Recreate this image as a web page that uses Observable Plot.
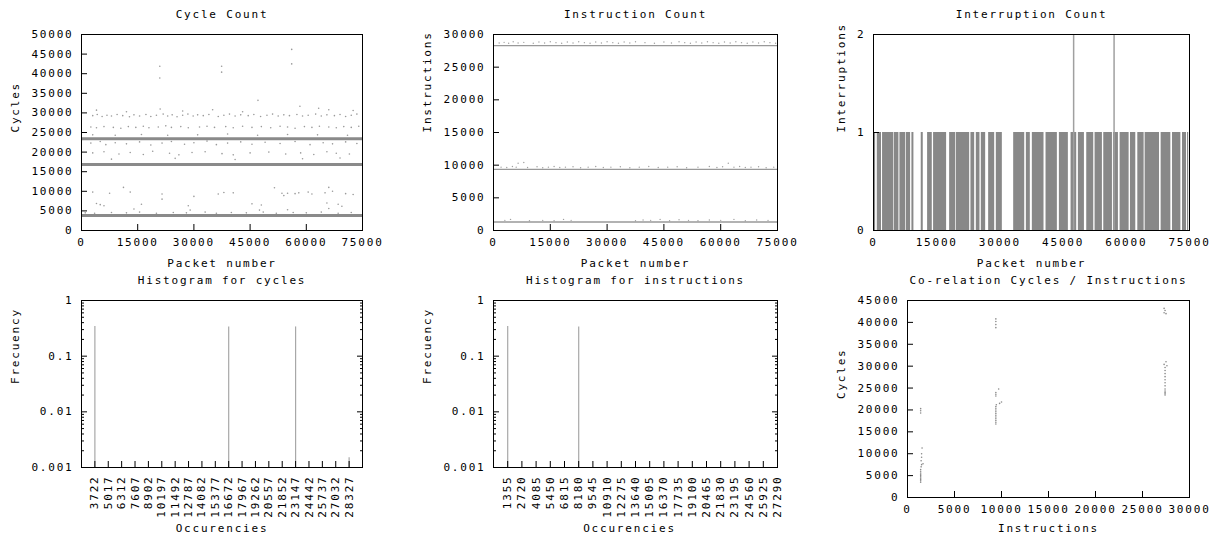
<!DOCTYPE html>
<html><head><meta charset="utf-8">
<script src="https://cdn.jsdelivr.net/npm/d3@7"></script>
<script src="https://cdn.jsdelivr.net/npm/@observablehq/plot@0.6"></script>
<style>
body{margin:0;background:#fff;}
#root{position:relative;width:1217px;height:537px;overflow:hidden;background:#fff;}
#root svg{position:absolute;}
</style></head><body><div id="root"></div><script>
// ---------------- DATA ----------------
const packetRange = [0, 75000];
const packetTicks = [0, 15000, 30000, 45000, 60000, 75000];

// Cycle count panel
const cycleTicks = [0, 5000, 10000, 15000, 20000, 25000, 30000, 35000, 40000, 45000, 50000];
const cycleBands = [23400, 16850, 3850];
const cycleScatter = [
  [20900,41900],[20900,38900],[37400,41900],[37400,40400],[56100,46200],[56100,42500],[47100,33200],[58300,31700],[63300,31200],
  [21000,31000],[27000,30500],[35000,30800],[43000,30300],[66000,30800],[72500,30600],[12000,30300],[4000,30700],
  [3000,29300],[4200,29600],[5500,29100],[6800,29400],[8000,29200],[9500,29600],[11000,29300],[12800,29000],[14000,29500],
  [15500,29200],[17200,29600],[18500,29100],[20000,29400],[21800,29700],[23000,29200],[24200,29500],[25500,29000],[27000,29400],
  [28400,29700],[29800,29200],[31000,29500],[32500,29300],[34000,29600],[36500,29100],[38000,29400],[39500,29700],[41000,29200],
  [42500,29500],[44500,29300],[46000,29600],[47800,29100],[49500,29400],[51000,29700],[52500,29200],[54000,29500],[55500,29300],
  [57500,29600],[59000,29200],[60500,29400],[62500,29700],[64000,29200],[65500,29500],[67500,29300],[69000,29600],[70500,29100],
  [72000,29400],[73500,29700],
  [2500,26400],[4000,26200],[6000,26500],[8500,26300],[10500,26100],[12500,26500],[14500,26300],[16500,26600],[18000,26200],
  [20500,26400],[22500,26700],[24000,26300],[26500,26500],[28500,26200],[31500,26400],[33500,26600],[35500,26300],[38500,26500],
  [40500,26200],[43000,26600],[45500,26300],[48000,26500],[50500,26200],[53000,26600],[55000,26400],[57000,26100],[59500,26500],
  [61500,26300],[63500,26600],[66000,26400],[68000,26200],[70000,26500],[72000,26300],[74000,26600],
  [3000,24400],[9000,24300],[16000,24500],[23000,24300],[31000,24400],[39000,24600],[47000,24300],[55000,24500],[63000,24400],[71000,24300],
  [2500,22300],[5000,22700],[6500,21900],[9000,22400],[12000,22100],[15500,22600],[18500,21800],[21500,22300],[24000,22700],
  [27500,22000],[30000,22400],[33500,22800],[36000,21900],[39000,22300],[42500,22600],[45500,22000],[49000,22500],[53000,22200],
  [57000,22700],[61000,21900],[64500,22400],[67000,22100],[70500,22600],[73500,22200],
  [3000,19800],[6000,20100],[10000,19500],[13000,19900],[16500,19400],[19000,20200],[23500,19700],[26000,19300],[29500,19900],
  [33000,20100],[37500,19600],[40500,19300],[45000,19800],[50000,20000],[54500,19500],[58500,19800],[62000,19400],[65500,20100],
  [68000,19700],[71500,19500],[8000,18200],[25000,18400],[41000,18100],[59000,18300],[69000,18500],
  [3000,9800],[7500,9500],[11200,11000],[13000,9800],[21500,9300],[36500,9300],[38000,9700],[40500,9600],[51500,10900],[53500,9500],
  [55000,9500],[57000,9400],[58000,9600],[60500,9800],[61500,9300],[65000,9600],[66000,11000],[67000,10000],[70500,9400],[72500,9200],
  [21500,8000],[30000,8700],[54000,8900],
  [4000,6900],[5000,6600],[6000,6300],[16000,6700],[28500,6300],[45500,6800],[48000,6500],[65500,7000],[68500,6700],[69500,6200],
  [14000,5500],[29000,5200],[47500,5200],[55000,5300],[66000,5600],
  [1000,4500],[3500,4400],[8000,4600],[12000,4500],[15500,4700],[20000,4400],[24500,4600],[28000,4500],[33000,4700],[36000,4400],
  [40000,4600],[44000,4500],[48500,4700],[52000,4400],[56500,4600],[60000,4500],[64000,4700],[68500,4400],[72000,4600]
];

// Instruction count panel
const instrTicks = [0, 5000, 10000, 15000, 20000, 25000, 30000];
const instrLevels = [28300, 9350, 1300];
const instrScatter = [
  [1500,28700],[2800,28800],[4000,28650],[5200,28900],[6500,28700],[8000,28800],[10500,28650],[12000,28850],[13500,28700],
  [15000,28900],[16500,28750],[18000,28650],[19500,28850],[21000,28700],[22500,28900],[24000,28750],[25500,28650],[27000,28850],
  [28500,28700],[30000,28900],[31500,28750],[33000,28650],[34500,28850],[36000,28700],[37500,28900],[40000,28750],[42500,28650],
  [45000,28850],[47000,28700],[49000,28900],[50500,28750],[52000,28650],[53500,28850],[55000,28700],[56500,28900],[58000,28750],
  [59500,28650],[61000,28850],[62500,28700],[64000,28900],[65500,28750],[67000,28650],[68500,28850],[70000,28700],[71500,28900],
  [73000,28750],[74500,28650],
  [2000,9700],[3500,9650],[5000,9800],[6500,10300],[8000,10400],[6000,9700],[9000,9650],[11500,9750],[13000,9600],[14500,9700],
  [16000,9800],[17500,9650],[19000,9700],[21000,9750],[23000,9600],[25000,9700],[27000,9800],[29000,9650],[31000,9700],
  [33500,9750],[36000,9600],[38500,9700],[41000,9800],[43500,9650],[46000,9700],[48500,9750],[51000,9600],[54000,9700],
  [57000,9800],[59000,9650],[60500,9750],[62000,10300],[63500,9700],[65000,9800],[66500,9650],[68000,9700],[70000,9750],
  [72000,9600],[74000,9700],
  [3000,1550],[4500,1700],[9500,1500],[13000,1550],[16000,1500],[18500,1700],[20500,1550],[37500,1500],[39500,1600],[41500,1550],
  [44000,1700],[46500,1500],[49000,1650],[51500,1550],[54000,1500],[57000,1600],[60000,1550],[63500,1700],[66500,1500],[69500,1600],[72500,1550]
];

// Interruption count panel
const interruptTicks = [0, 1, 2];
const interruptActive = [150, 74800];
const interruptGaps = [
  [500,900],[1900,2150],[4750,4900],[6030,6270],[7610,7770],[8800,9120],[9590,11330],[11810,12840],[13950,14260],
  [17350,18070],[19490,19650],[22820,23130],[24010,24400],[25270,25590],[26620,27330],[28760,29150],[30580,33270],
  [35890,36280],[37220,37700],[40470,40950],[43640,44120],[46250,46890],[48230,48630],[50060,50610],[52270,52590],
  [54330,54650],[56710,56950],[58130,58530],[60670,60990],[62250,62730],[64230,64470],[67880,68270],[70570,70970],
  [72950,73340],[74290,74530]
];
const interruptLevel = 1;
const interruptSpikes = [[47500, 2], [57100, 2]];

// Histograms
const freqTicks = [0.001, 0.01, 0.1, 1];
const freqLabels = ["0.001", "0.01", "0.1", "1"];
const cycleBins = [3722,5017,6312,7607,8902,10197,11492,12787,14082,15377,16672,17967,19262,20557,21852,23147,24442,25737,27032,28327];
const cycleFreq = [0.34,0,0,0,0,0,0,0,0,0,0.335,0,0,0,0,0.335,0,0,0,0.0015];
const cycleBinDomain = [2427, 29622];
const instrBins = [1355,2720,4085,5450,6815,8180,9545,10910,12275,13640,15005,16370,17735,19100,20465,21830,23195,24560,25925,27290];
const instrFreq = [0.34,0,0,0,0,0.335,0,0,0,0,0,0,0,0,0,0,0,0,0,0];
const instrBinDomain = [-10, 27290];

// Correlation panel
const corrXTicks = [0, 5000, 10000, 15000, 20000, 25000, 30000];
const corrYTicks = [0, 5000, 10000, 15000, 20000, 25000, 30000, 35000, 40000, 45000];
const corrPoints = [
  [1400,3500],[1400,3800],[1400,4100],[1400,4400],[1400,4700],[1400,5000],[1400,5300],[1400,5600],[1400,6000],[1400,6400],
  [1450,7000],[1500,7500],[1650,7700],[1450,8400],[1500,9200],[1500,10000],[1550,11300],[1400,19300],[1400,19800],[1400,20300],
  [9400,16800],[9400,17200],[9400,17600],[9400,18000],[9400,18400],[9400,18800],[9400,19200],[9400,19600],[9400,20000],[9400,20400],
  [9400,20800],[9450,21200],[9400,23200],[9400,23600],[9400,24000],[9700,24800],[9800,21500],[10000,21800],
  [9400,38800],[9400,39500],[9400,40200],[9400,40800],
  [27400,23400],[27400,23700],[27400,24000],[27400,24300],[27400,24800],[27400,25500],[27400,26200],[27400,26900],[27400,27600],
  [27400,28300],[27400,29000],[27400,29700],[27300,30400],[27500,31000],[27600,30100],[27300,42200],[27400,42700],[27300,43200],[27500,42000]
];

// ---------------- DRAWING ----------------
const fmt = d3.format("d");
const baseStyle = "font-family:'DejaVu Sans Mono',monospace;font-size:11px;letter-spacing:1.8px;background:transparent;overflow:visible;color:#000;";
const root = document.getElementById("root");
function place(svg, left, top) { svg.style.left = left + "px"; svg.style.top = top + "px"; root.appendChild(svg); }
const txt = (s, o) => Plot.text([s], {text: d => d, fill: "#000", ...o});

function linAxes(xt, yt, opts = {}) {
  const m = [
    Plot.axisX({ticks: xt, tickSize: 0, tickPadding: 8, tickFormat: fmt, label: null}),
    Plot.axisY({ticks: yt, tickSize: 0, tickPadding: 8, tickFormat: opts.yFmt || fmt, label: null}),
    Plot.axisY({ticks: yt, tickSize: -6, tickFormat: () => "", label: null})
  ];
  if (opts.bottomTicks !== false) m.push(Plot.axisX({ticks: xt, tickSize: -6, tickFormat: () => "", label: null}));
  return m;
}

// Panel 1: Cycle Count
place(Plot.plot({
  width: 400, height: 270, marginTop: 34, marginLeft: 81, marginRight: 38, marginBottom: 40,
  style: baseStyle,
  x: {domain: packetRange}, y: {domain: [0, 50000]},
  marks: [
    Plot.dot(cycleScatter, {x: d => d[0], y: d => d[1], r: 0.8, fill: "#9a9a9a", stroke: null}),
    Plot.ruleY(cycleBands, {y: d => d, x1: packetRange[0], x2: packetRange[1], stroke: "#8a8a8a", strokeWidth: 3}),
    Plot.frame({stroke: "#000"}),
    ...linAxes(packetTicks, cycleTicks),
    txt("Cycle Count", {frameAnchor: "top", dy: -24}),
    txt("Packet number", {frameAnchor: "bottom", dy: 36}),
    txt("Cycles", {frameAnchor: "left", dx: -66, rotate: -90})
  ]
}), 0, 0);

// Panel 2: Instruction Count
place(Plot.plot({
  width: 400, height: 270, marginTop: 34, marginLeft: 93, marginRight: 23, marginBottom: 40,
  style: baseStyle,
  x: {domain: packetRange}, y: {domain: [0, 30000]},
  marks: [
    Plot.dot(instrScatter, {x: d => d[0], y: d => d[1], r: 0.7, fill: "#a0a0a0", stroke: null}),
    Plot.ruleY(instrLevels, {y: d => d, x1: packetRange[0], x2: packetRange[1], stroke: "#999", strokeWidth: 1.3}),
    Plot.frame({stroke: "#000"}),
    ...linAxes(packetTicks, instrTicks),
    txt("Instruction Count", {frameAnchor: "top", dy: -24}),
    txt("Packet number", {frameAnchor: "bottom", dy: 36}),
    txt("Instructions", {frameAnchor: "left", dx: -66, rotate: -90})
  ]
}), 400, 0);

// Panel 3: Interruption Count
const interruptRuns = [];
{
  let s = interruptActive[0];
  for (const [g0, g1] of interruptGaps) { if (g0 > s) interruptRuns.push([s, g0, interruptLevel]); s = g1; }
  if (s < interruptActive[1]) interruptRuns.push([s, interruptActive[1], interruptLevel]);
}
place(Plot.plot({
  width: 417, height: 270, marginTop: 34, marginLeft: 73, marginRight: 28, marginBottom: 40,
  style: baseStyle,
  x: {domain: packetRange}, y: {domain: [0, 2]},
  marks: [
    Plot.rect(interruptRuns, {x1: d => d[0], x2: d => d[1], y1: 0, y2: d => d[2], fill: "#888"}),
    Plot.ruleX(interruptSpikes, {x: d => d[0], y1: 0, y2: d => d[1], stroke: "#a0a0a0", strokeWidth: 1.5}),
    Plot.frame({stroke: "#000"}),
    ...linAxes(packetTicks, interruptTicks, {bottomTicks: false}),
    txt("Interruption Count", {frameAnchor: "top", dy: -24}),
    txt("Packet number", {frameAnchor: "bottom", dy: 36}),
    txt("Interruptions", {frameAnchor: "left", dx: -32, rotate: -90})
  ]
}), 800, 0);

// Histogram helper
const minorTicks = freqTicks.slice(0, -1).flatMap(m => [2,3,4,5,6,7,8,9].map(k => +(m * k).toPrecision(3)));
function histogram(bins, freq, domain, title, left, marginLeft, marginRight, occDx) {
  const data = bins.map((b, i) => ({b, f: freq[i]})).filter(d => d.f > 0);
  place(Plot.plot({
    width: 400, height: 267, marginTop: 30, marginLeft, marginRight, marginBottom: 70,
    style: baseStyle,
    x: {domain}, y: {type: "log", domain: [0.001, 1]},
    marks: [
      Plot.ruleX(data, {x: "b", y1: 0.001, y2: "f", stroke: "#a8a8a8", strokeWidth: 1.2}),
      Plot.frame({stroke: "#000"}),
      Plot.axisX({ticks: bins, tickSize: 0, tickPadding: 8, tickRotate: -90, tickFormat: fmt, label: null}),
      Plot.axisX({ticks: bins, tickSize: -6, tickFormat: () => "", label: null}),
      Plot.axisY({ticks: freqTicks, tickSize: 0, tickPadding: 8, tickFormat: d => freqLabels[freqTicks.indexOf(d)], label: null}),
      Plot.axisY({ticks: freqTicks, tickSize: -6, tickFormat: () => "", label: null}),
      Plot.axisY({ticks: minorTicks, tickSize: -3, tickFormat: () => "", label: null}),
      Plot.axisY({anchor: "right", ticks: freqTicks, tickSize: -6, tickFormat: () => "", label: null}),
      Plot.axisY({anchor: "right", ticks: minorTicks, tickSize: -3, tickFormat: () => "", label: null}),
      txt(title, {frameAnchor: "top", dy: -24}),
      txt("Occurencies", {frameAnchor: "bottom", dy: 64, dx: occDx}),
      txt("Frecuency", {frameAnchor: "left", dx: -66, rotate: -90})
    ]
  }), left, 270);
}
histogram(cycleBins, cycleFreq, cycleBinDomain, "Histogram for cycles", 0, 81, 38, 0);
histogram(instrBins, instrFreq, instrBinDomain, "Histogram for instructions", 400, 93, 23, -6);

// Panel 6: Correlation
place(Plot.plot({
  width: 417, height: 267, marginTop: 30, marginLeft: 107, marginRight: 28, marginBottom: 40,
  style: baseStyle,
  x: {domain: [0, 30000]}, y: {domain: [0, 45000]},
  marks: [
    Plot.dot(corrPoints, {x: d => d[0], y: d => d[1], r: 0.8, fill: "#8a8a8a", stroke: null}),
    Plot.frame({stroke: "#000"}),
    ...linAxes(corrXTicks, corrYTicks),
    txt("Co-relation Cycles / Instructions", {frameAnchor: "top", dy: -24}),
    txt("Instructions", {frameAnchor: "bottom", dy: 34}),
    txt("Cycles", {frameAnchor: "left", dx: -66, rotate: -90})
  ]
}), 800, 270);
</script></body></html>
